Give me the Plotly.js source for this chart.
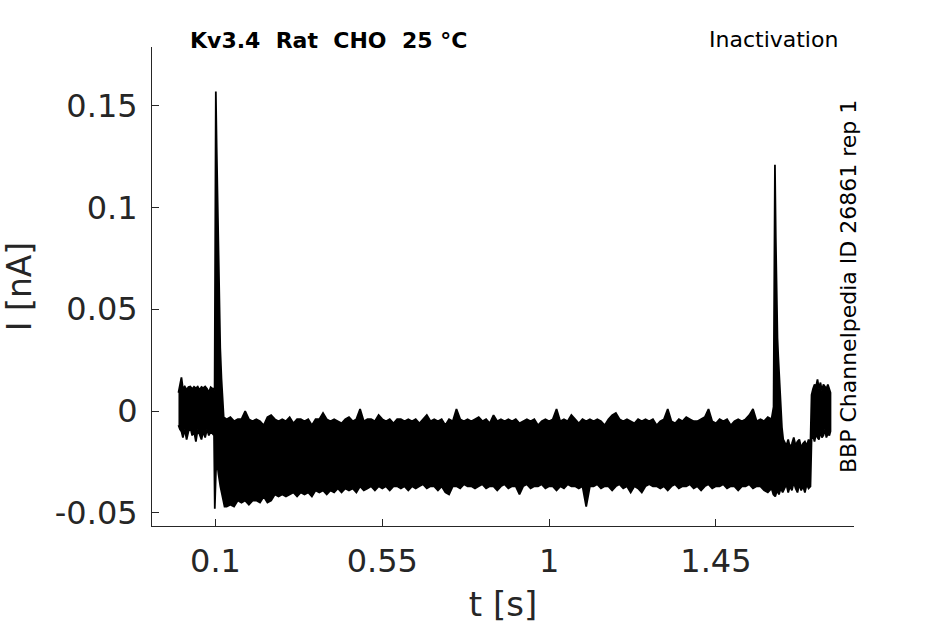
<!DOCTYPE html>
<html>
<head>
<meta charset="utf-8">
<script src="https://cdn.plot.ly/plotly-3.0.1.min.js"></script>
<style>html,body{margin:0;padding:0;background:#fff;}#chart{width:945px;height:624px;}</style>
</head>
<body>
<div id="chart"></div>
<script>
// ---- data (t in s, I in nA) ----
// holding period before the pulse: upper / lower edges of the noise band
const tPre  = [0, 0.004, 0.008, 0.012, 0.017, 0.022, 0.027, 0.032, 0.037, 0.042, 0.047, 0.052, 0.057, 0.062, 0.067, 0.072, 0.077, 0.082, 0.087, 0.092];
const upPre = [0.009, 0.012, 0.0165, 0.011, 0.012, 0.0105, 0.0118, 0.012, 0.0108, 0.0119, 0.0112, 0.012, 0.0104, 0.0118, 0.0113, 0.012, 0.0109, 0.0092, 0.0117, 0.011];
const loPre = [-0.007, -0.009, -0.010, -0.013, -0.009, -0.014, -0.010, -0.008, -0.012, -0.010, -0.015, -0.009, -0.011, -0.014, -0.010, -0.013, -0.009, -0.012, -0.010, -0.011];

// onset transient at 0.1 s
const tOn   = [0.0955, 0.0975, 0.0992, 0.1008, 0.1030, 0.1057, 0.1090, 0.1127, 0.1160, 0.1190, 0.1220];
const upOn  = [0.011, 0.010, 0.100, 0.157, 0.130, 0.097, 0.062, 0.031, 0.016, 0.008, -0.003];
const tOnLo = [0.0960, 0.0980, 0.0995, 0.1010, 0.1035, 0.1080, 0.1130, 0.1180, 0.1243];
const loOn  = [-0.012, -0.048, -0.048, -0.030, -0.024, -0.031, -0.037, -0.042, -0.047];

// long inactivating pulse: noise band edges
const tBand = [0.13,0.14,0.15,0.16,0.17,0.18,0.19,0.20,0.21,0.22,
  0.23,0.24,0.25,0.26,0.27,0.28,0.29,0.30,0.31,0.32,
  0.33,0.34,0.35,0.36,0.37,0.38,0.39,0.40,0.41,0.42,
  0.43,0.44,0.45,0.46,0.47,0.48,0.49,0.50,0.51,0.52,
  0.53,0.54,0.55,0.56,0.57,0.58,0.59,0.60,0.61,0.62,
  0.63,0.64,0.65,0.66,0.67,0.68,0.69,0.70,0.71,0.72,
  0.73,0.74,0.75,0.76,0.77,0.78,0.79,0.80,0.81,0.82,
  0.83,0.84,0.85,0.86,0.87,0.88,0.89,0.90,0.91,0.92,
  0.93,0.94,0.95,0.96,0.97,0.98,0.99,1.00,1.01,1.02,
  1.03,1.04,1.05,1.06,1.07,1.08,1.09,1.10,1.11,1.12,
  1.13,1.14,1.15,1.16,1.17,1.18,1.19,1.20,1.21,1.22,
  1.23,1.24,1.25,1.26,1.27,1.28,1.29,1.30,1.31,1.32,
  1.33,1.34,1.35,1.36,1.37,1.38,1.39,1.40,1.41,1.42,
  1.43,1.44,1.45,1.46,1.47,1.48,1.49,1.50,1.51,1.52,
  1.53,1.54,1.55,1.56,1.57,1.58,1.59,1.60];
const upBand = [-0.004,-0.003,-0.005,-0.004,-0.004,0.000,-0.004,-0.005,-0.004,-0.005,
  -0.007,-0.003,-0.002,-0.004,-0.005,-0.004,-0.005,-0.003,-0.006,-0.004,
  -0.004,-0.005,-0.004,-0.007,-0.004,-0.004,-0.001,-0.004,-0.005,-0.004,
  -0.005,-0.006,-0.004,-0.003,-0.005,-0.004,0.001,-0.005,-0.004,-0.004,
  -0.005,-0.002,-0.004,-0.005,-0.004,-0.006,-0.004,-0.004,-0.005,-0.004,
  -0.005,-0.004,-0.006,-0.004,-0.002,-0.005,-0.004,-0.005,-0.004,-0.007,
  -0.004,-0.005,0.001,-0.004,-0.005,-0.004,-0.005,-0.004,-0.003,-0.005,
  -0.004,-0.006,-0.002,-0.005,-0.004,-0.005,-0.004,-0.005,-0.004,-0.006,
  -0.005,-0.004,-0.005,-0.004,-0.007,-0.005,-0.004,-0.005,-0.004,0.001,
  -0.005,-0.004,-0.005,-0.002,-0.004,-0.006,-0.004,-0.005,-0.004,-0.005,
  -0.004,-0.005,-0.007,-0.004,-0.002,-0.001,-0.004,-0.005,-0.004,-0.005,
  -0.006,-0.004,-0.005,-0.004,-0.005,-0.004,-0.007,-0.005,-0.004,0.001,
  -0.005,-0.006,-0.004,-0.005,-0.003,-0.004,-0.005,-0.005,-0.004,-0.003,
  0.001,-0.005,-0.006,-0.004,-0.005,-0.004,-0.007,-0.005,-0.004,-0.005,
  -0.004,-0.002,0.001,-0.005,-0.004,-0.005,-0.003,-0.004];
const loBand = [-0.047,-0.046,-0.047,-0.044,-0.045,-0.044,-0.046,-0.044,-0.044,-0.045,
  -0.042,-0.045,-0.044,-0.041,-0.042,-0.041,-0.042,-0.041,-0.040,-0.042,
  -0.040,-0.041,-0.040,-0.042,-0.039,-0.040,-0.039,-0.041,-0.039,-0.040,
  -0.038,-0.040,-0.038,-0.039,-0.038,-0.040,-0.037,-0.039,-0.038,-0.037,
  -0.039,-0.037,-0.038,-0.037,-0.039,-0.037,-0.037,-0.038,-0.037,-0.039,
  -0.037,-0.038,-0.037,-0.036,-0.038,-0.037,-0.037,-0.039,-0.037,-0.040,
  -0.041,-0.037,-0.037,-0.038,-0.036,-0.037,-0.037,-0.038,-0.037,-0.036,
  -0.038,-0.037,-0.037,-0.039,-0.037,-0.036,-0.038,-0.037,-0.037,-0.041,
  -0.037,-0.036,-0.038,-0.037,-0.037,-0.036,-0.038,-0.037,-0.037,-0.039,
  -0.037,-0.038,-0.036,-0.037,-0.037,-0.038,-0.037,-0.047,-0.037,-0.037,
  -0.036,-0.038,-0.037,-0.037,-0.039,-0.037,-0.036,-0.038,-0.037,-0.040,
  -0.037,-0.038,-0.040,-0.037,-0.036,-0.037,-0.037,-0.038,-0.037,-0.039,
  -0.037,-0.036,-0.038,-0.037,-0.037,-0.036,-0.038,-0.037,-0.039,-0.037,
  -0.036,-0.038,-0.037,-0.037,-0.036,-0.038,-0.037,-0.037,-0.039,-0.037,
  -0.037,-0.036,-0.038,-0.037,-0.037,-0.039,-0.040,-0.038];

// test pulse transient at 1.6 s
const tTest   = [1.6055, 1.6075, 1.6092, 1.6115, 1.6138, 1.6160, 1.6181, 1.6215, 1.6246, 1.6280, 1.6316];
const upTest  = [0.002, 0.070, 0.121, 0.085, 0.048, 0.036, 0.027, 0.012, 0.002, -0.008, -0.014];
const tTestLo = [1.605, 1.610, 1.615, 1.620, 1.625, 1.630];
const loTest  = [-0.041, -0.042, -0.039, -0.041, -0.038, -0.040];

// rest of test pulse
const tTail  = [1.635, 1.640, 1.645, 1.650, 1.655, 1.660, 1.665, 1.670, 1.675, 1.680, 1.685, 1.690, 1.695, 1.700, 1.705];
const upTail = [-0.015, -0.017, -0.014, -0.018, -0.016, -0.013, -0.017, -0.015, -0.014, -0.018, -0.016, -0.015, -0.017, -0.014, -0.016];
const loTail = [-0.038, -0.036, -0.040, -0.037, -0.039, -0.035, -0.038, -0.040, -0.036, -0.039, -0.037, -0.040, -0.036, -0.038, -0.037];

// back at holding potential
const tPost  = [1.708, 1.712, 1.716, 1.720, 1.724, 1.728, 1.732, 1.736, 1.740, 1.744, 1.748, 1.752, 1.756, 1.759];
const upPost = [0.008, 0.011, 0.013, 0.012, 0.0155, 0.011, 0.014, 0.010, 0.013, 0.012, 0.011, 0.013, 0.010, 0.009];
const loPost = [-0.014, -0.012, -0.015, -0.011, -0.013, -0.014, -0.010, -0.013, -0.012, -0.009, -0.013, -0.011, -0.012, -0.010];

// axis ticks
const xTickVals = [0.1, 0.55, 1, 1.45];
const xTickText = ['0.1', '0.55', '1', '1.45'];
const yTickVals = [-0.05, 0, 0.05, 0.1, 0.15];
const yTickText = ['-0.05', '0', '0.05', '0.1', '0.15'];

// ---- build the closed trace outline (upper edge forward, lower edge back) ----
const tUp = [].concat(tPre, tOn, tBand, tTest, tTail, tPost);
const iUp = [].concat(upPre, upOn, upBand, upTest, upTail, upPost);
const tLo = [].concat(tPre, tOnLo, tBand, tTestLo, tTail, tPost);
const iLo = [].concat(loPre, loOn, loBand, loTest, loTail, loPost);
const xs = tUp.concat(tLo.slice().reverse());
const ys = iUp.concat(iLo.slice().reverse());

const FONT = 'DejaVu Sans, sans-serif';
const AX = '#262626';

const trace = {
  x: xs, y: ys, type: 'scatter', mode: 'lines',
  fill: 'toself', fillcolor: '#000000',
  line: {color: '#000000', width: 1.8},
  hoverinfo: 'skip', showlegend: false
};

const layout = {
  width: 945, height: 624,
  margin: {l: 152, r: 91, t: 47, b: 98, pad: 0},
  paper_bgcolor: '#ffffff', plot_bgcolor: '#ffffff',
  font: {family: FONT, color: AX},
  showlegend: false,
  xaxis: {
    range: [-0.0714, 1.8225], tickvals: xTickVals, ticktext: xTickText,
    ticks: 'inside', ticklen: 7, tickwidth: 1, tickcolor: AX,
    showline: true, linecolor: AX, linewidth: 1, mirror: false,
    showgrid: false, zeroline: false,
    tickfont: {family: FONT, size: 32, color: AX},
    ticklabelstandoff: 7,
    title: {text: 't [s]', font: {family: FONT, size: 34, color: AX}, standoff: 16}
  },
  yaxis: {
    range: [-0.0565, 0.1789], tickvals: yTickVals, ticktext: yTickText,
    ticks: 'inside', ticklen: 7, tickwidth: 1, tickcolor: AX,
    showline: true, linecolor: AX, linewidth: 1, mirror: false,
    showgrid: false, zeroline: false,
    tickfont: {family: FONT, size: 32, color: AX},
    ticklabelstandoff: 7,
    title: {text: 'I [nA]', font: {family: FONT, size: 33, color: AX}, standoff: 14}
  },
  annotations: [
    {text: '<b>Kv3.4\u00a0\u00a0Rat\u00a0\u00a0CHO\u00a0\u00a025 °C</b>', xref: 'paper', yref: 'paper',
     x: 0.2516, y: 1.0146, xanchor: 'center', yanchor: 'middle', showarrow: false,
     font: {family: FONT, size: 22, color: '#000000'}},
    {text: 'Inactivation', xref: 'paper', yref: 'paper',
     x: 0.980, y: 1.0167, xanchor: 'right', yanchor: 'middle', showarrow: false,
     font: {family: FONT, size: 22, color: '#000000'}},
    {text: 'BBP Channelpedia ID 26861 rep 1', xref: 'paper', yref: 'paper',
     x: 0.9929, y: 0.499, xanchor: 'center', yanchor: 'middle', textangle: -90, showarrow: false,
     font: {family: FONT, size: 22, color: '#000000'}}
  ]
};

Plotly.newPlot('chart', [trace], layout, {staticPlot: true, displayModeBar: false});
</script>
</body>
</html>
